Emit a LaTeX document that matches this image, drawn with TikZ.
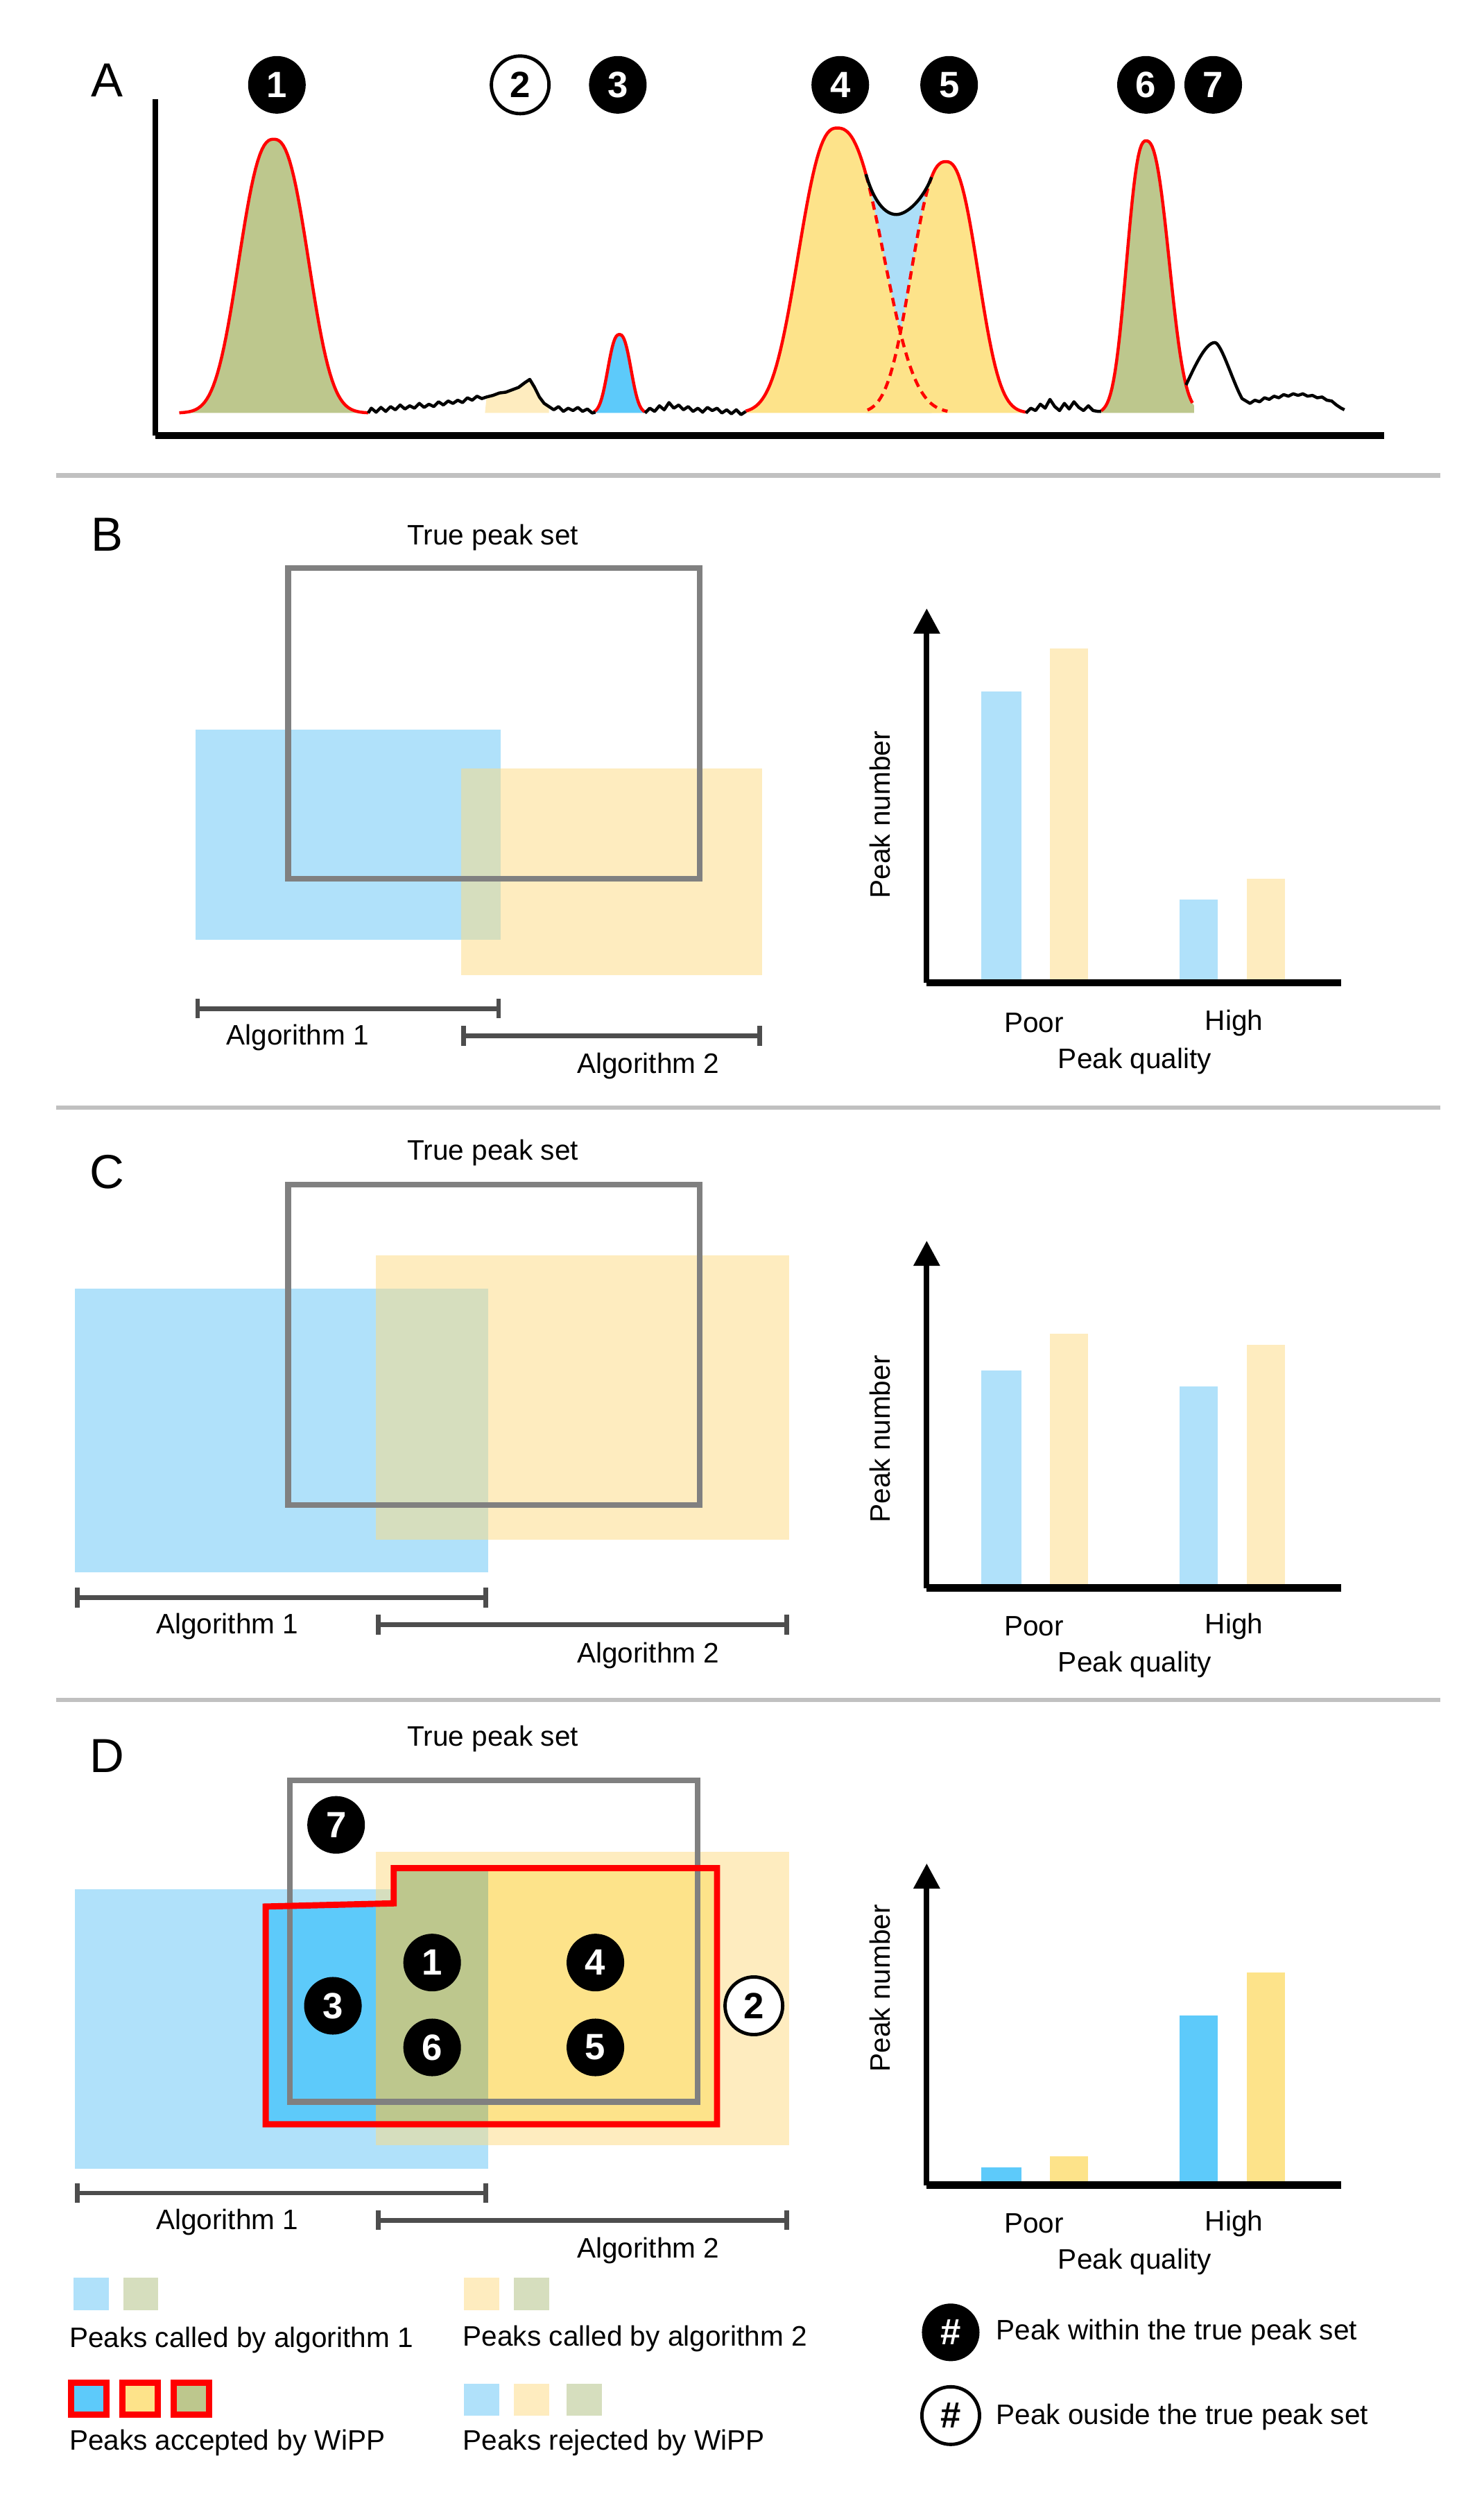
\documentclass[tikz,border=0pt]{standalone}
\usepackage{fontspec}
\setmainfont{Liberation Sans}
\setsansfont{Liberation Sans}
\usepackage{xcolor}
\usetikzlibrary{arrows.meta,positioning}

\definecolor{callblue}{RGB}{176,225,250}
\definecolor{callyellow}{RGB}{254,236,191}
\definecolor{callgreen}{RGB}{214,222,190}
\definecolor{keepblue}{RGB}{93,202,250}
\definecolor{keepyellow}{RGB}{253,227,138}
\definecolor{keepgreen}{RGB}{189,199,141}
\definecolor{valleyblue}{RGB}{172,222,248}
\definecolor{boxgray}{RGB}{128,128,128}
\definecolor{rulegray}{RGB}{192,192,192}
\definecolor{bargray}{RGB}{77,77,77}

\begin{document}
\begin{tikzpicture}[x=0.02cm, y=-0.02cm,
  declare function={pk(\px,\pc,\ph,\pl,\pr)=\ph*exp(-((abs(\px-\pc)+0.001)/((\px<\pc)?\pl:\pr))^2.5);},
  panel/.style={font=\fontsize{17}{17}\selectfont, inner sep=0pt},
  lbl/.style={font=\fontsize{10}{12}\selectfont, inner sep=0pt},
  badge/.style={circle, fill=black, text=white, minimum size=0.72cm, inner sep=0pt,
    font=\fontsize{13}{13}\selectfont\bfseries},
  outbadge/.style={badge, fill=white, draw=black, line width=1.2pt, text=black},
  truebox/.style={draw=boxgray, line width=2pt},
  wipp/.style={draw=red, line width=2.2pt, line join=miter},
  algbar/.style={draw=bargray, line width=1.7pt, {Bar[width=7pt]}-{Bar[width=7pt]}},
  yaxis/.style={line width=2pt, -{Triangle[width=9pt,length=9pt]}},
  xaxis/.style={line width=2.6pt},
  peakline/.style={red, line width=1.1pt},
  fitline/.style={red, line width=1.1pt, dash pattern=on 3pt off 2pt},
  signal/.style={black, line width=1.1pt, line join=round},
  sep/.style={rulegray, line width=1.6pt},
]
\useasboundingbox (0,0) rectangle (927,1568);

% ---------------- Panel A: chromatogram ----------------
\node[panel] (labA) at (67,50) {A};

% peak 1
\fill[keepgreen] (112,258) -- plot[domain=112:230, samples=90] (\x,{258-pk(\x,171,171,27,27)}) -- (230,258) -- cycle;
\draw[peakline] plot[domain=112:230, samples=90] (\x,{258-pk(\x,171,171,27,27)});

% peak 2 (rejected, outside)
\fill[callyellow] (303,258) -- (304,248) -- (308,247) -- (312,245.5) -- (316,245) -- (320,243.5) -- (324,242) -- (328,239) -- (331,237) -- (334,242) -- (337,248) -- (340,252) -- (343,254) -- (343,258) -- cycle;

% peak 3
\fill[keepblue] (371,258) -- plot[domain=371:403, samples=40] (\x,{258-pk(\x,387,49,9,9)}) -- (403,258) -- cycle;
\draw[peakline] plot[domain=371:403, samples=40] (\x,{258-pk(\x,387,49,9,9)});

% peaks 4 and 5
\coordinate (vs) at (541,{258-pk(541,523,178,30,36)});
\coordinate (ve) at (582,{258-pk(582,591,157,27,25)});
\fill[valleyblue] (vs) .. controls (546,126) and (553,134) .. (560,134)
  .. controls (567,134) and (577,124) .. (ve) -- (582,258) -- (541,258) -- cycle;
\fill[keepyellow] (466,258) -- plot[domain=466:592, samples=90] (\x,{258-pk(\x,523,178,30,36)}) -- (592,258) -- cycle;
\fill[keepyellow] (542,258) -- plot[domain=542:641, samples=80] (\x,{258-pk(\x,591,157,27,25)}) -- (641,258) -- cycle;
\draw[peakline] plot[domain=466:541, samples=60] (\x,{258-pk(\x,523,178,30,36)});
\draw[fitline] plot[domain=541:592, samples=40] (\x,{258-pk(\x,523,178,30,36)});
\draw[fitline] plot[domain=542:582, samples=40] (\x,{258-pk(\x,591,157,27,25)});
\draw[peakline] plot[domain=582:641, samples=50] (\x,{258-pk(\x,591,157,27,25)});
\draw[signal] (vs) .. controls (546,126) and (553,134) .. (560,134)
  .. controls (567,134) and (577,124) .. (ve);

% peak 6
\fill[keepgreen] (688,258) -- plot[domain=688:746, samples=60] (\x,{258-pk(\x,716,170,15,18)}) -- (746,258) -- cycle;
\draw[peakline] plot[domain=688:745, samples=60] (\x,{258-pk(\x,716,170,15,18)});

% signal between the peaks
\draw[signal] (230,258) -- (232,255) -- (235,257.5) -- (238,254.5) -- (241,257) -- (244,254) -- (247,256) -- (250,253) -- (253,255.5) -- (256,253.5) -- (259,255) -- (262,252) -- (265,254.5) -- (268,252.5) -- (271,254) -- (274,251) -- (277,253) -- (280,250.5) -- (283,252) -- (286,250) -- (289,251.5) -- (292,248.5) -- (295,250) -- (298,247.5) -- (301,249) -- (304,248)
  -- (308,247) -- (312,245.5) -- (316,245) -- (320,243.5) -- (324,242) -- (328,239) -- (331,237) -- (334,242) -- (337,248) -- (340,252) -- (343,254)
  -- (346,256) -- (349,254) -- (352,257) -- (355,255) -- (358,256.5) -- (361,254.5) -- (364,257) -- (367,255.5) -- (370,258) -- (372,257.5);
\draw[signal] (403,258) -- (406,255) -- (409,257) -- (412,253.5) -- (415,256) -- (418,251.5) -- (421,255) -- (424,253) -- (427,256) -- (430,254) -- (433,257) -- (436,255) -- (439,257.5) -- (442,254.5) -- (445,256.5) -- (448,255) -- (451,258) -- (454,256) -- (457,258.5) -- (460,256) -- (463,259) -- (466,257);
\draw[signal] (641,258) -- (644,255) -- (647,256.5) -- (650,252.5) -- (653,255) -- (656,249.5) -- (659,254) -- (662,256.5) -- (665,252) -- (668,255.5) -- (671,251) -- (674,254.5) -- (677,256.5) -- (680,253.5) -- (683,256.5) -- (686,257) -- (688,257);
% peak 7
\coordinate (p7s) at (741,{258-pk(741,716,170,15,18)});
\draw[signal] (p7s) .. controls (746,230) and (753,214) .. (759,214)
  .. controls (763,214) and (770,238) .. (776,249) -- (781,252)
  -- (784,250) -- (787,251) -- (790,248.5) -- (793,249.5) -- (796,247.5) -- (799,248.5) -- (802,246.5) -- (805,247.5) -- (808,246) -- (811,247) -- (814,246) -- (817,247.5) -- (820,247) -- (823,248.5) -- (826,248) -- (829,250) -- (832,250.5) -- (835,253) -- (838,255) -- (840,256);

% axes
\coordinate (oA) at (97,272);
\coordinate (topA) at (97,62);
\coordinate (endA) at (865,272);
\draw[line width=1.8pt] (topA) -- (oA);
\draw[xaxis] (oA) -- (endA);

% peak numbers
\node[badge] (a1) at (173,53) {1};
\node[outbadge] (a2) at (325,53) {2};
\node[badge] (a3) at (386,53) {3};
\node[badge] (a4) at (525,53) {4};
\node[badge] (a5) at (593,53) {5};
\node[badge] (a6) at (716,53) {6};
\node[badge] (a7) at (758,53) {7};

\draw[sep] (35,297) -- (900,297);

% ---------------- Panel B ----------------
\node[panel] (labB) at (67,334) {B};
\node[lbl] (tpsB) at (308,336) {True peak set};
\fill[callblue] (122,456) rectangle (313,587);
\fill[callyellow] (288,480) rectangle (476,609);
\fill[callgreen] (288,480) rectangle (313,587);
\draw[truebox] (180,355) rectangle (437,549);

\coordinate (b1l) at (122,630);
\coordinate (b1r) at (313,630);
\coordinate (b2l) at (288,647);
\coordinate (b2r) at (476,647);
\draw[algbar] (b1l) -- (b1r);
\draw[algbar] (b2l) -- (b2r);
\node[lbl] (algB1) at (186,648) {Algorithm 1};
\node[lbl] (algB2) at (405,666) {Algorithm 2};

% bar chart
\fill[callblue] (613,614) rectangle (638,432);
\fill[callyellow] (656,614) rectangle (680,405);
\fill[callblue] (737,614) rectangle (761,562);
\fill[callyellow] (779,614) rectangle (803,549);
\coordinate (oB) at (579,614);
\coordinate (topB) at (579,380);
\coordinate (endB) at (838,614);
\draw[yaxis] (oB) -- (topB);
\draw[xaxis] (oB) -- (endB);
\node[lbl, rotate=90] (pnB) at (550,509) {Peak number};
\node[lbl] (poorB) at (646,639) {Poor};
\node[lbl] (highB) at (771,639) {High};
\node[lbl] (pqB) at (709,663) {Peak quality};

\draw[sep] (35,692) -- (900,692);

% ---------------- Panel C ----------------
\node[panel] (labC) at (67,732) {C};
\node[lbl] (tpsC) at (308,720) {True peak set};
\fill[callblue] (47,805) rectangle (305,982);
\fill[callyellow] (235,784) rectangle (493,962);
\fill[callgreen] (235,805) rectangle (305,962);
\draw[truebox] (180,740) rectangle (437,940);

\coordinate (c1l) at (47,998);
\coordinate (c1r) at (305,998);
\coordinate (c2l) at (235,1015);
\coordinate (c2r) at (493,1015);
\draw[algbar] (c1l) -- (c1r);
\draw[algbar] (c2l) -- (c2r);
\node[lbl] (algC1) at (142,1016) {Algorithm 1};
\node[lbl] (algC2) at (405,1034) {Algorithm 2};

% bar chart
\fill[callblue] (613,992) rectangle (638,856);
\fill[callyellow] (656,992) rectangle (680,833);
\fill[callblue] (737,992) rectangle (761,866);
\fill[callyellow] (779,992) rectangle (803,840);
\coordinate (oC) at (579,992);
\coordinate (topC) at (579,775);
\coordinate (endC) at (838,992);
\draw[yaxis] (oC) -- (topC);
\draw[xaxis] (oC) -- (endC);
\node[lbl, rotate=90] (pnC) at (550,899) {Peak number};
\node[lbl] (poorC) at (646,1016) {Poor};
\node[lbl] (highC) at (771,1016) {High};
\node[lbl] (pqC) at (709,1040) {Peak quality};

\draw[sep] (35,1062) -- (900,1062);

% ---------------- Panel D ----------------
\node[panel] (labD) at (67,1097) {D};
\node[lbl] (tpsD) at (308,1086) {True peak set};
\fill[callblue] (47,1180) rectangle (305,1355);
\fill[callyellow] (235,1157) rectangle (493,1340);
\fill[callgreen] (235,1180) rectangle (305,1340);
% accepted peaks
\begin{scope}
  \clip (166,1191) -- (246,1189) -- (246,1167) -- (448,1167) -- (448,1327) -- (166,1327) -- cycle;
  \fill[keepblue] (160,1160) rectangle (235,1330);
  \fill[keepgreen] (235,1160) rectangle (305,1330);
  \fill[keepyellow] (305,1160) rectangle (450,1330);
\end{scope}
\draw[truebox] (181,1112) rectangle (436,1313);
\draw[wipp] (166,1191) -- (246,1189) -- (246,1167) -- (448,1167) -- (448,1327) -- (166,1327) -- cycle;

\node[badge] (d7) at (210,1140) {7};
\node[badge] (d1) at (270,1226) {1};
\node[badge] (d4) at (372,1226) {4};
\node[badge] (d3) at (208,1253) {3};
\node[badge] (d6) at (270,1279) {6};
\node[badge] (d5) at (372,1279) {5};
\node[outbadge] (d2) at (471,1253) {2};

\coordinate (d1l) at (47,1370);
\coordinate (d1r) at (305,1370);
\coordinate (d2l) at (235,1387);
\coordinate (d2r) at (493,1387);
\draw[algbar] (d1l) -- (d1r);
\draw[algbar] (d2l) -- (d2r);
\node[lbl] (algD1) at (142,1388) {Algorithm 1};
\node[lbl] (algD2) at (405,1406) {Algorithm 2};

% bar chart
\fill[keepblue] (613,1365) rectangle (638,1354);
\fill[keepyellow] (656,1365) rectangle (680,1347);
\fill[keepblue] (737,1365) rectangle (761,1259);
\fill[keepyellow] (779,1365) rectangle (803,1232);
\coordinate (oD) at (579,1365);
\coordinate (topD) at (579,1164);
\coordinate (endD) at (838,1365);
\draw[yaxis] (oD) -- (topD);
\draw[xaxis] (oD) -- (endD);
\node[lbl, rotate=90] (pnD) at (550,1242) {Peak number};
\node[lbl] (poorD) at (646,1389) {Poor};
\node[lbl] (highD) at (771,1389) {High};
\node[lbl] (pqD) at (709,1413) {Peak quality};

% ---------------- Legend ----------------
\fill[callblue] (46,1423) rectangle (68,1443);
\fill[callgreen] (77,1423) rectangle (99,1443);
\node[lbl, anchor=west] (leg1) at (43,1462) {Peaks called by algorithm 1};
\fill[callyellow] (290,1423) rectangle (312,1443);
\fill[callgreen] (321,1423) rectangle (343,1443);
\node[lbl, anchor=west] (leg2) at (289,1461) {Peaks called by algorithm 2};

\draw[wipp, fill=keepblue] (44.5,1488.5) rectangle (66.5,1508.5);
\draw[wipp, fill=keepyellow] (76.5,1488.5) rectangle (98.5,1508.5);
\draw[wipp, fill=keepgreen] (108.5,1488.5) rectangle (130.5,1508.5);
\node[lbl, anchor=west] (leg3) at (43,1526) {Peaks accepted by WiPP};
\fill[callblue] (290,1489) rectangle (312,1509);
\fill[callyellow] (321,1489) rectangle (343,1509);
\fill[callgreen] (354,1489) rectangle (376,1509);
\node[lbl, anchor=west] (leg4) at (289,1526) {Peaks rejected by WiPP};

\node[badge] (kin) at (594,1457) {\#};
\node[lbl, anchor=west] (leg5) at (622,1457) {Peak within the true peak set};
\node[outbadge] (kout) at (594,1509) {\#};
\node[lbl, anchor=west] (leg6) at (622,1510) {Peak ouside the true peak set};

\end{tikzpicture}
\end{document}
